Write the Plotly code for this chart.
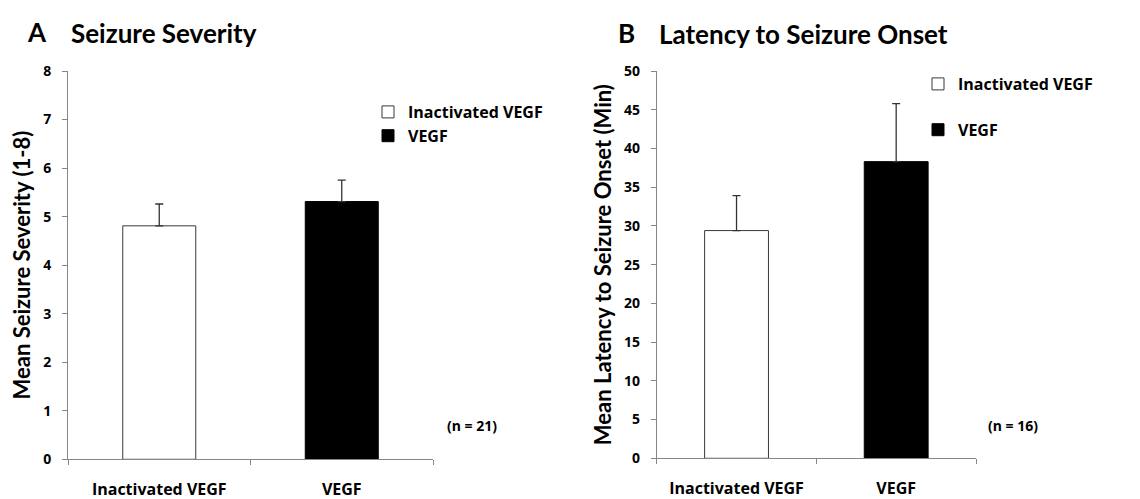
import plotly.graph_objects as go

W, H = 1140, 499

categories = ["Inactivated VEGF", "VEGF"]
severity_mean = [4.81, 5.31]
severity_err = [0.45, 0.44]
latency_mean = [29.4, 38.3]
latency_err = [4.5, 7.5]
severity_ticks = [0, 1, 2, 3, 4, 5, 6, 7, 8]
latency_ticks = [0, 5, 10, 15, 20, 25, 30, 35, 40, 45, 50]
n_labels = ["(n = 21)", "(n = 16)"]

fills = ["#FFFFFF", "#000000"]
outlines = ["#3a3a3a", "#000000"]

AXC = "#868686"
FT = "Lato"
FB = "Open Sans"

def px(x):
    return x / W

def py(y):
    return 1 - y / H

fig = go.Figure()

panels = [
    ("x", "y", severity_mean, severity_err, "legend"),
    ("x2", "y2", latency_mean, latency_err, "legend2"),
]
for xa, ya, means, errs, leg in panels:
    for i, cat in enumerate(categories):
        fig.add_trace(go.Bar(
            x=[cat], y=[means[i]], name=cat, xaxis=xa, yaxis=ya,
            width=0.4, legend=leg, legendgroup=leg + cat,
            marker=dict(color=fills[i], line=dict(color=outlines[i], width=1)),
            error_y=dict(type="data", symmetric=False, array=[errs[i]], arrayminus=[0],
                         color="#333333", thickness=1.3, width=4),
            hoverinfo="skip",
        ))

def xaxis(domain, anchor):
    return dict(domain=domain, anchor=anchor, type="category", range=[-0.5, 1.5], showline=True,
                linecolor=AXC, linewidth=1, ticks="outside", tickson="boundaries",
                ticklen=5, tickcolor=AXC, showgrid=False, zeroline=False, automargin=False,
                tickfont=dict(family=FB, size=16, color="#000", weight="bold"),
                ticklabelstandoff=15, fixedrange=True)

def yaxis(domain, anchor, rng, tickvals, title, standoff):
    return dict(domain=domain, anchor=anchor, range=rng, tickvals=tickvals, showline=True,
                linecolor=AXC, linewidth=1, ticks="outside", ticklen=5, tickcolor=AXC,
                showgrid=False, zeroline=False, automargin=False,
                tickfont=dict(family=FB, size=14, color="#000", weight="bold"),
                ticklabelstandoff=8,
                title=dict(text=title, standoff=standoff,
                           font=dict(family=FT, size=22, color="#000", weight="bold")))

legend_font = dict(family=FB, size=16, color="#000", weight="bold")

fig.update_layout(
    width=W, height=H, margin=dict(l=0, r=0, t=0, b=0, autoexpand=False),
    paper_bgcolor="white", plot_bgcolor="white", barmode="overlay",
    xaxis=xaxis([px(68), px(433)], "y"),
    yaxis=yaxis([py(459.3), py(71)], "x", [0, 8], severity_ticks, "Mean Seizure Severity (1-8)", 6),
    xaxis2=xaxis([px(656.7), px(976)], "y2"),
    yaxis2=yaxis([py(458.3), py(71)], "x2", [0, 50], latency_ticks, "Mean Latency to Seizure Onset (Min)", 6),
    legend=dict(x=px(368), y=py(95), xanchor="left", yanchor="top", font=legend_font,
                bgcolor="rgba(0,0,0,0)", tracegroupgap=0, itemwidth=30),
    legend2=dict(x=px(918), y=py(67), xanchor="left", yanchor="top", font=legend_font,
                 bgcolor="rgba(0,0,0,0)", tracegroupgap=22, itemwidth=30),
    showlegend=True,
)

annots = [
    ("A", 25, 32, 26),
    ("Seizure Severity", 69, 33, 26),
    ("B", 616, 33, 26),
    ("Latency to Seizure Onset", 657, 34, 26),
]
for text, x, y, s in annots:
    fig.add_annotation(text=text, x=px(x), y=py(y), xref="paper", yref="paper",
                       xanchor="left", yanchor="middle", showarrow=False,
                       font=dict(family=FT, size=s, color="#000", weight="bold"))

for text, x in zip(n_labels, [472, 1013]):
    fig.add_annotation(text=text, x=px(x), y=py(425), xref="paper", yref="paper",
                       xanchor="center", yanchor="middle", showarrow=False,
                       font=dict(family=FB, size=14, color="#000", weight="bold"))

fig.write_html("out.html", config={"displayModeBar": False})
